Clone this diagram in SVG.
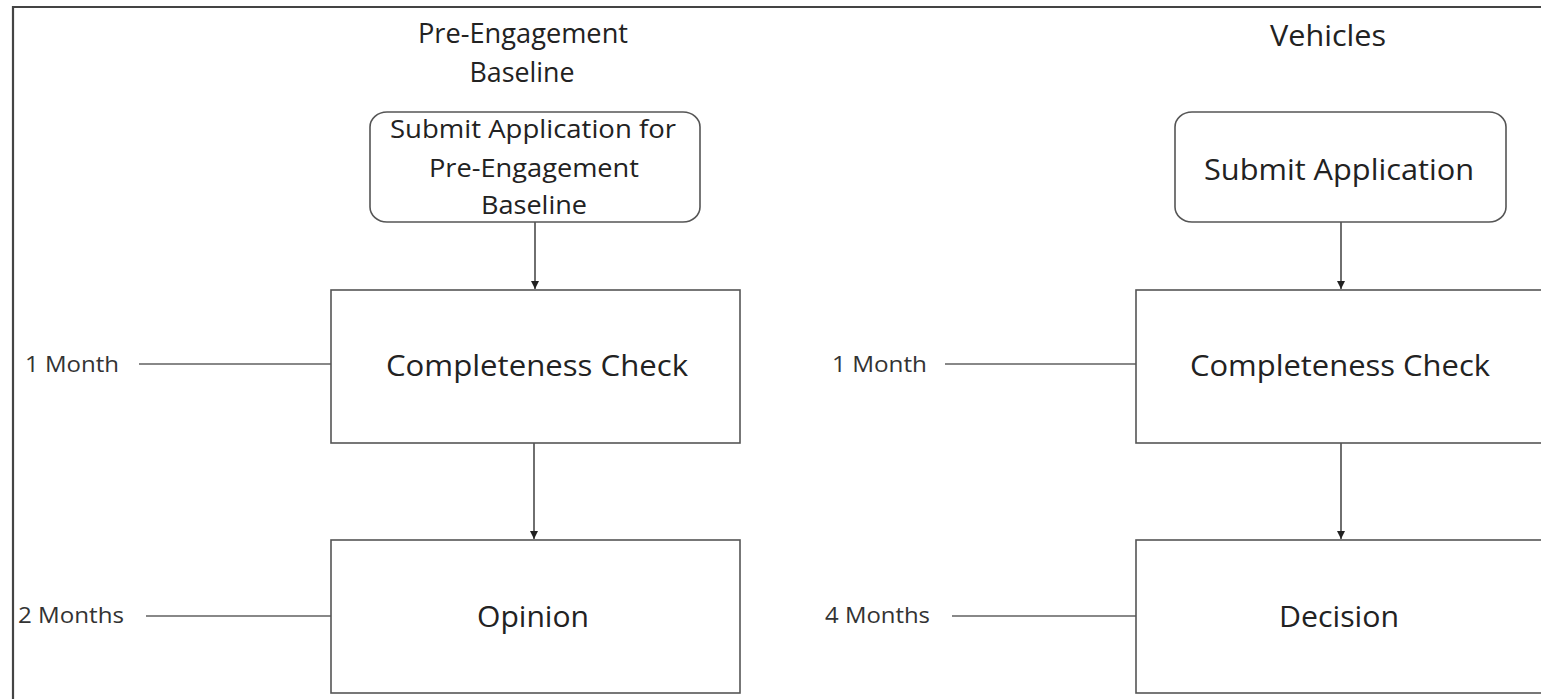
<svg xmlns="http://www.w3.org/2000/svg" width="1541" height="699" viewBox="0 0 1541 699">
  <defs>
    <marker id="arrow" viewBox="0 0 10 10" refX="10" refY="5" markerWidth="8" markerHeight="10" markerUnits="userSpaceOnUse" orient="auto">
      <path d="M0,0 L10,5 L0,10 z" fill="#222"/>
    </marker>
    <style>
      .box { fill: #fff; stroke: #555; stroke-width: 1.6; }
      .txt { font-family: "Open Sans", "Liberation Sans", sans-serif; fill: #222; text-anchor: middle; }
      .lbl { font-family: "Open Sans", "Liberation Sans", sans-serif; fill: #333; font-size: 21px; }
      .conn { stroke: #333; stroke-width: 1.4; fill: none; }
      .tick { stroke: #888; stroke-width: 2; fill: none; }
      .frame { stroke: #444; stroke-width: 2.2; fill: none; }
    </style>
  </defs>
  <rect width="1541" height="699" fill="#fff"/>
  <path class="frame" d="M13,699 L13,7 L1541,7"/>

  <g id="titles">
    <text class="txt" x="523" y="43" font-size="27" textLength="210" lengthAdjust="spacingAndGlyphs">Pre-Engagement</text>
    <text class="txt" x="522" y="82" font-size="27" textLength="105" lengthAdjust="spacingAndGlyphs">Baseline</text>
    <text class="txt" x="1328" y="46" font-size="29" textLength="116" lengthAdjust="spacingAndGlyphs">Vehicles</text>
  </g>

  <g id="connectors">
    <line class="conn" x1="535" y1="222" x2="535" y2="289" marker-end="url(#arrow)"/>
    <line class="conn" x1="534" y1="443" x2="534" y2="539" marker-end="url(#arrow)"/>
    <line class="conn" x1="1341" y1="222" x2="1341" y2="289" marker-end="url(#arrow)"/>
    <line class="conn" x1="1341" y1="443" x2="1341" y2="539" marker-end="url(#arrow)"/>
    <line class="tick" x1="139" y1="364" x2="331" y2="364"/>
    <line class="tick" x1="146" y1="616" x2="331" y2="616"/>
    <line class="tick" x1="945" y1="364" x2="1136" y2="364"/>
    <line class="tick" x1="952" y1="616" x2="1136" y2="616"/>
  </g>

  <g id="left-submit">
    <rect class="box" x="370" y="112" width="330" height="110" rx="17" ry="15"/>
    <text class="txt" x="533" y="138" font-size="25" textLength="286" lengthAdjust="spacingAndGlyphs">Submit Application for</text>
    <text class="txt" x="534" y="177" font-size="25" textLength="210" lengthAdjust="spacingAndGlyphs">Pre-Engagement</text>
    <text class="txt" x="534" y="214" font-size="25" textLength="106" lengthAdjust="spacingAndGlyphs">Baseline</text>
  </g>

  <g id="left-check">
    <rect class="box" x="331" y="290" width="409" height="153"/>
    <text class="txt" x="537" y="376" font-size="30" textLength="302" lengthAdjust="spacingAndGlyphs">Completeness Check</text>
  </g>

  <g id="left-opinion">
    <rect class="box" x="331" y="540" width="409" height="153"/>
    <text class="txt" x="533" y="627" font-size="30" textLength="112" lengthAdjust="spacingAndGlyphs">Opinion</text>
  </g>

  <g id="right-submit">
    <rect class="box" x="1175" y="112" width="331" height="110" rx="17" ry="15"/>
    <text class="txt" x="1339" y="180" font-size="30" textLength="270" lengthAdjust="spacingAndGlyphs">Submit Application</text>
  </g>

  <g id="right-check">
    <rect class="box" x="1136" y="290" width="420" height="153"/>
    <text class="txt" x="1340" y="376" font-size="30" textLength="300" lengthAdjust="spacingAndGlyphs">Completeness Check</text>
  </g>

  <g id="right-decision">
    <rect class="box" x="1136" y="540" width="420" height="153"/>
    <text class="txt" x="1339" y="627" font-size="30" textLength="120" lengthAdjust="spacingAndGlyphs">Decision</text>
  </g>

  <g id="labels">
    <text class="lbl" x="25" y="372" textLength="94" lengthAdjust="spacingAndGlyphs">1 Month</text>
    <text class="lbl" x="18" y="623" textLength="106" lengthAdjust="spacingAndGlyphs">2 Months</text>
    <text class="lbl" x="832" y="372" textLength="95" lengthAdjust="spacingAndGlyphs">1 Month</text>
    <text class="lbl" x="825" y="623" textLength="105" lengthAdjust="spacingAndGlyphs">4 Months</text>
  </g>
</svg>
